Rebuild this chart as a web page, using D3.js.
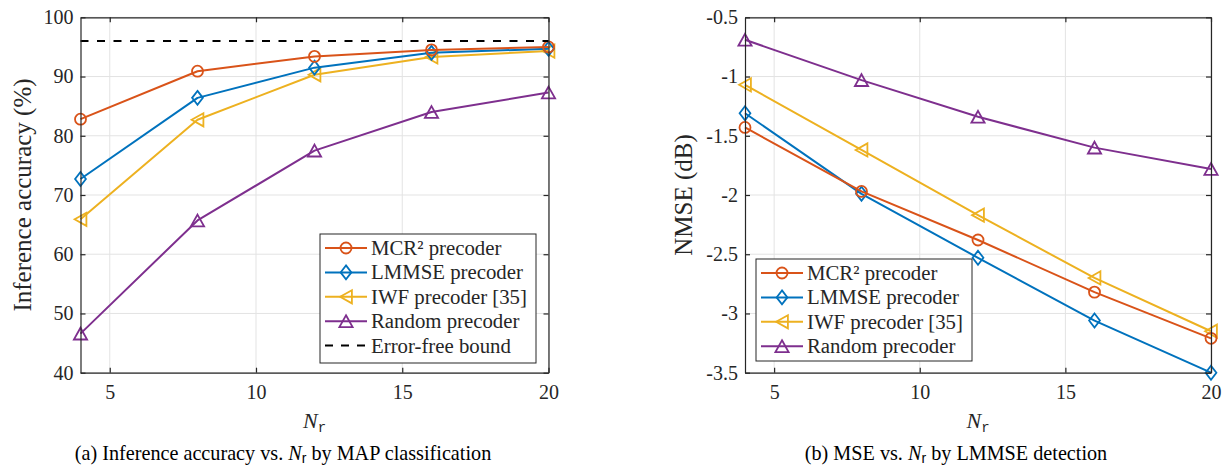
<!DOCTYPE html>
<html><head><meta charset="utf-8">
<script src="https://cdn.jsdelivr.net/npm/d3@7"></script>
<style>
body{margin:0;background:#fff;}
svg{display:block;}
svg text{font-family:"Liberation Serif","Times New Roman",serif;}
</style>
</head><body>
<svg id="chart" width="1223" height="472"></svg>
<script>
// ---------------- data ----------------
const nr = [4, 8, 12, 16, 20];
const xTicks = [5, 10, 15, 20];
const xTickLabels = ["5", "10", "15", "20"];

const accMCR    = [82.8, 90.9, 93.4, 94.5, 95.0];
const accLMMSE  = [72.7, 86.4, 91.5, 94.0, 94.7];
const accIWF    = [65.9, 82.7, 90.3, 93.3, 94.3];
const accRandom = [46.6, 65.7, 77.5, 84.0, 87.3];
const accBound  = 96;
const accTicks  = [40, 50, 60, 70, 80, 90, 100];
const accTickLabels = ["40", "50", "60", "70", "80", "90", "100"];

const nmseMCR    = [-1.43, -1.97, -2.38, -2.82, -3.21];
const nmseLMMSE  = [-1.31, -1.99, -2.53, -3.06, -3.50];
const nmseIWF    = [-1.07, -1.62, -2.17, -2.70, -3.15];
const nmseRandom = [-0.69, -1.03, -1.34, -1.60, -1.78];
const nmseTicks  = [-3.5, -3, -2.5, -2, -1.5, -1, -0.5];
const nmseTickLabels = ["-3.5", "-3", "-2.5", "-2", "-1.5", "-1", "-0.5"];

const seriesNames = ["MCR\u00B2 precoder", "LMMSE precoder", "IWF precoder [35]", "Random precoder"];
const boundName = "Error-free bound";
const yLabels = ["Inference accuracy (%)", "NMSE (dB)"];
const captionA = ["(a) Inference accuracy vs. ", " by MAP classification"];
const captionB = ["(b) MSE vs. ", " by LMMSE detection"];

// ---------------- style ----------------
const SERIF = "Liberation Serif";
const colors = ["#D95319", "#0072BD", "#EDB120", "#7E2F8E"];
const markerKinds = ["circle", "diamond", "left", "up"];
const markerPath = {
  circle: "M5.5,0A5.5,5.5 0 1,1 -5.5,0A5.5,5.5 0 1,1 5.5,0Z",
  diamond: "M0,-7L5.4,0L0,7L-5.4,0Z",
  left: "M-5.9,0L5.9,-6.6L5.9,6.6Z",
  up: "M0,-5.9L6.6,5.9L-6.6,5.9Z"
};
const axisColor = "#262626";
const gridColor = "#e3e3e3";

const svg = d3.select("#chart");

function panel(c) {
  const x = d3.scaleLinear().domain([4, 20]).range([c.x0, c.x1]);
  const y = d3.scaleLinear().domain(c.yDomain).range([c.y1, c.y0]);
  const g = svg.append("g");

  // grid
  g.selectAll(null).data(xTicks).join("line")
    .attr("x1", d => x(d)).attr("x2", d => x(d))
    .attr("y1", c.y0).attr("y2", c.y1)
    .attr("stroke", gridColor).attr("stroke-width", 1);
  g.selectAll(null).data(c.yTicks).join("line")
    .attr("x1", c.x0).attr("x2", c.x1)
    .attr("y1", d => y(d)).attr("y2", d => y(d))
    .attr("stroke", gridColor).attr("stroke-width", 1);

  // series (reverse order so first series ends on top)
  const line = d3.line().x((d, i) => x(nr[i])).y(d => y(d));
  for (let k = c.series.length - 1; k >= 0; k--) {
    const vals = c.series[k];
    g.append("path").datum(vals).attr("d", line)
      .attr("fill", "none").attr("stroke", colors[k]).attr("stroke-width", 2)
      .attr("stroke-linejoin", "round");
    g.selectAll(null).data(vals).join("path")
      .attr("d", markerPath[markerKinds[k]])
      .attr("transform", (d, i) => `translate(${x(nr[i])},${y(d)})`)
      .attr("fill", "none").attr("stroke", colors[k]).attr("stroke-width", 1.8);
  }

  if (c.bound != null) {
    g.append("line")
      .attr("x1", x(4)).attr("x2", x(20))
      .attr("y1", y(c.bound)).attr("y2", y(c.bound))
      .attr("stroke", "#000").attr("stroke-width", 2)
      .attr("stroke-dasharray", "8,8.5");
  }

  // axes (inward ticks on all four sides)
  const fmtX = d => xTickLabels[xTicks.indexOf(d)];
  const fmtY = d => c.yTickLabels[c.yTicks.indexOf(d)];
  const styleAxis = sel => {
    sel.attr("font-family", SERIF).attr("font-size", 20);
    sel.select(".domain").attr("stroke", axisColor).attr("stroke-width", 1.2);
    sel.selectAll(".tick line").attr("stroke", axisColor).attr("stroke-width", 1.2);
    sel.selectAll(".tick text").attr("fill", "#262626")
      .attr("font-family", SERIF).attr("font-size", 20);
  };
  g.append("g").attr("transform", `translate(0,${c.y1})`)
    .call(d3.axisBottom(x).tickValues(xTicks).tickFormat(fmtX).tickSizeInner(-5).tickSizeOuter(0).tickPadding(12))
    .call(styleAxis);
  g.append("g").attr("transform", `translate(0,${c.y0})`)
    .call(d3.axisTop(x).tickValues(xTicks).tickFormat("").tickSizeInner(-5).tickSizeOuter(0))
    .call(styleAxis);
  g.append("g").attr("transform", `translate(${c.x0},0)`)
    .call(d3.axisLeft(y).tickValues(c.yTicks).tickFormat(fmtY).tickSizeInner(-5).tickSizeOuter(0).tickPadding(7))
    .call(styleAxis);
  g.append("g").attr("transform", `translate(${c.x1},0)`)
    .call(d3.axisRight(y).tickValues(c.yTicks).tickFormat("").tickSizeInner(-5).tickSizeOuter(0))
    .call(styleAxis);

  // y label
  g.append("text")
    .attr("transform", `translate(${c.ylx},${(c.y0 + c.y1) / 2}) rotate(-90)`)
    .attr("text-anchor", "middle").attr("fill", "#262626")
    .attr("font-family", SERIF).attr("font-size", 25).text(c.ylabel);

  // x label N_r
  const xl = g.append("text")
    .attr("x", (c.x0 + c.x1) / 2).attr("y", 428)
    .attr("text-anchor", "middle").attr("fill", "#262626")
    .attr("font-family", SERIF);
  xl.append("tspan").attr("font-style", "italic").attr("font-size", 22).text("N");
  xl.append("tspan").attr("dy", 4).attr("font-family", "Liberation Mono")
    .attr("font-size", 14).text("r");

  // legend
  const L = c.legend;
  const lg = g.append("g");
  lg.append("rect").attr("x", L.x).attr("y", L.y).attr("width", L.w).attr("height", L.h)
    .attr("fill", "#fff").attr("stroke", axisColor).attr("stroke-width", 1);
  L.entries.forEach((e, i) => {
    const cy = L.y + 14 + i * 24.4;
    lg.append("line").attr("x1", L.x + 5).attr("x2", L.x + 47).attr("y1", cy).attr("y2", cy)
      .attr("stroke", e.color).attr("stroke-width", 2)
      .attr("stroke-dasharray", e.dash ? "8,8" : null);
    if (e.marker) {
      lg.append("path").attr("d", markerPath[e.marker])
        .attr("transform", `translate(${L.x + 26},${cy})`)
        .attr("fill", "none").attr("stroke", e.color).attr("stroke-width", 1.8);
    }
    lg.append("text").attr("x", L.x + 51).attr("y", cy).attr("dy", "0.34em")
      .attr("fill", "#262626").attr("font-family", SERIF).attr("font-size", 20.8).text(e.name);
  });

  // caption
  const cap = svg.append("text").attr("x", c.capX).attr("y", 460)
    .attr("text-anchor", "middle").attr("fill", "#000")
    .attr("font-family", SERIF).attr("font-size", 20.2);
  cap.append("tspan").text(c.caption[0]);
  cap.append("tspan").attr("font-style", "italic").text("N");
  cap.append("tspan").attr("dy", 3).attr("font-family", "Liberation Sans")
    .attr("font-size", 14).text("r");
  cap.append("tspan").attr("dy", -3).text(c.caption[1]);
}

const entries = seriesNames.map((n, i) => ({ name: n, color: colors[i], marker: markerKinds[i] }));

panel({
  x0: 80.5, x1: 548.5, y0: 17.3, y1: 372.7,
  yDomain: [40, 100], yTicks: accTicks, yTickLabels: accTickLabels,
  series: [accMCR, accLMMSE, accIWF, accRandom], bound: accBound,
  ylabel: yLabels[0], ylx: 31,
  legend: { x: 320, y: 234, w: 216, h: 129,
    entries: entries.concat([{ name: boundName, color: "#000", dash: true }]) },
  caption: captionA, capX: 283
});
panel({
  x0: 745, x1: 1211, y0: 17.3, y1: 372.7,
  yDomain: [-3.5, -0.5], yTicks: nmseTicks, yTickLabels: nmseTickLabels,
  series: [nmseMCR, nmseLMMSE, nmseIWF, nmseRandom], bound: null,
  ylabel: yLabels[1], ylx: 692,
  legend: { x: 756, y: 259, w: 216, h: 102, entries: entries },
  caption: captionB, capX: 956
});
</script>
</body></html>
